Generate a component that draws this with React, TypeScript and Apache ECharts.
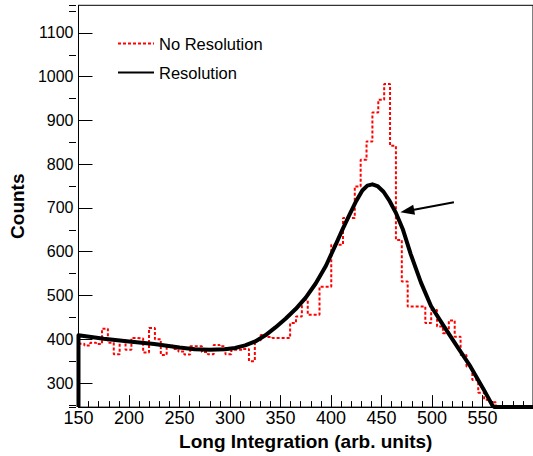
import React, { useEffect, useRef } from "react";
import * as echarts from "echarts";

// ---- data ----
const seriesNames = ["No Resolution", "Resolution"];
const xAxisTitle = "Long Integration (arb. units)";
const yAxisTitle = "Counts";
const xRange = [150, 600];
const yRange = [245, 1163];

// "No Resolution" histogram: first bin low edge, bin width, counts per bin
const binStart = 150;
const binWidth = 5.82;
const noResolutionCounts = [
  390, 386, 392, 389, 424, 392, 366, 397, 376, 403,
  402, 370, 426, 400, 364, 386, 378, 372, 365, 384,
  384, 371, 366, 387, 384, 366, 376, 376, 378, 350,
  398, 410, 405, 403, 403, 403, 437, 452, 490, 456,
  456, 520, 520, 616, 616, 677, 677, 749, 810, 852,
  918, 947, 983, 842, 627, 532, 475, 475, 475, 437,
  467, 429, 414, 443, 406, 364, 338, 307, 278, 262,
  256,
];

// "Resolution" curve
const resolutionX = [
  150, 150, 175, 200, 225, 250, 265, 280, 295, 305,
  315, 325, 335, 345, 355, 365, 375, 385, 395, 405,
  412, 418, 425, 431, 436, 441, 446, 452, 458, 464,
  471, 479, 489, 499, 512, 525, 538, 551, 560, 562,
  600,
];
const resolutionCounts = [
  245, 409, 401, 395, 389, 381, 377, 376, 377, 380,
  386, 395, 409, 427, 447, 469, 495, 528, 568, 618,
  654, 683, 716, 740, 751, 754, 750, 737, 716, 690,
  652, 594, 530, 476, 429, 383, 338, 286, 248, 245,
  245,
];

// annotation arrow (data coordinates): tail, head
const arrowFrom = [521.7, 713];
const arrowTo = [475.5, 693];

const FONT = "'Liberation Sans', Arial, Helvetica, sans-serif";

function histogramSteps(): number[][] {
  const pts: number[][] = [];
  noResolutionCounts.forEach((c, k) => {
    const x0 = binStart + k * binWidth;
    pts.push([x0, c], [x0 + binWidth, c]);
  });
  pts.push([binStart + noResolutionCounts.length * binWidth, 0]);
  return pts;
}

export default function App() {
  const ref = useRef<HTMLDivElement>(null);

  useEffect(() => {
    if (!ref.current) return;
    const chart = echarts.init(ref.current, undefined, { renderer: "svg" });
    const resolutionData = resolutionX.map((x, i) => [x, resolutionCounts[i]]);

    chart.setOption({
      animation: false,
      backgroundColor: "#ffffff",
      grid: {
        left: 73.5,
        right: -4.5,
        top: 5.3,
        bottom: 48.7,
        show: true,
        borderColor: "#000",
        borderWidth: 1,
        backgroundColor: "transparent",
      },
      legend: {
        orient: "vertical",
        left: 117,
        top: 35,
        padding: 0,
        itemWidth: 36,
        itemHeight: 14,
        itemGap: 12,
        data: seriesNames,
        itemStyle: { opacity: 0 },
        textStyle: { fontSize: 16.5, lineHeight: 16, fontFamily: FONT, color: "#000" },
      },
      xAxis: {
        type: "value",
        min: xRange[0],
        max: xRange[1],
        interval: 50,
        name: xAxisTitle,
        nameLocation: "middle",
        nameGap: 23,
        nameTextStyle: { fontSize: 19, fontWeight: "bold", fontFamily: FONT, color: "#000" },
        axisLine: { show: true, onZero: false, lineStyle: { color: "#000", width: 1 } },
        axisTick: { show: true, inside: true, length: 12, lineStyle: { color: "#000", width: 1 } },
        minorTick: { show: true, splitNumber: 5, length: 6, lineStyle: { color: "#000", width: 1 } },
        axisLabel: {
          fontSize: 18,
          fontFamily: FONT,
          color: "#000",
          margin: 2,
          showMaxLabel: false,
          formatter: (v: number) => String(v),
        },
        splitLine: { show: false },
        minorSplitLine: { show: false },
      },
      yAxis: [
        {
          type: "value",
          min: yRange[0],
          max: yRange[1],
          splitNumber: 9,
          minInterval: 100,
          maxInterval: 100,
          name: yAxisTitle,
          nameLocation: "middle",
          nameGap: 43,
          nameTextStyle: { fontSize: 19, fontWeight: "bold", fontFamily: FONT, color: "#000" },
          axisLine: { show: true, onZero: false, lineStyle: { color: "#000", width: 1 } },
          axisTick: { show: true, inside: true, length: 14, lineStyle: { color: "#000", width: 1 } },
          axisLabel: {
            fontSize: 16,
            fontFamily: FONT,
            color: "#000",
            margin: 5,
            showMinLabel: false,
            showMaxLabel: false,
            formatter: (v: number) => String(v),
          },
          splitLine: { show: false },
        },
        {
          // minor ticks at the 50s, shifted by half a major step
          type: "value",
          position: "right",
          offset: -464,
          min: yRange[0] - 50,
          max: yRange[1] - 50,
          splitNumber: 9,
          minInterval: 100,
          maxInterval: 100,
          axisLine: { show: false },
          axisTick: { show: true, inside: false, length: 7, lineStyle: { color: "#000", width: 1 } },
          axisLabel: { show: false },
          splitLine: { show: false },
        },
      ],
      series: [
        {
          type: "line",
          name: seriesNames[0],
          data: histogramSteps(),
          symbol: "none",
          showSymbol: false,
          clip: true,
          z: 2,
          itemStyle: { color: "#ff0000" },
          lineStyle: { color: "#ff0000", width: 2, type: [3, 2] },
        },
        {
          type: "line",
          name: seriesNames[1],
          data: resolutionData,
          symbol: "none",
          showSymbol: false,
          clip: true,
          z: 3,
          itemStyle: { color: "#000" },
          lineStyle: { color: "#000", width: 4, join: "round" },
          markLine: {
            silent: true,
            symbol: ["none", "triangle"],
            label: { show: false },
            lineStyle: { color: "#000", width: 2, type: "solid" },
            emphasis: { disabled: true },
            data: [
              [
                { coord: arrowFrom, symbolSize: 1 },
                { coord: arrowTo, symbolSize: [10, 14] },
              ],
            ],
          },
        },
      ],
    });

    return () => chart.dispose();
  }, []);

  return (
    <div
      ref={ref}
      style={{ position: "fixed", left: 0, top: 0, width: 533, height: 456, background: "#fff" }}
    />
  );
}
